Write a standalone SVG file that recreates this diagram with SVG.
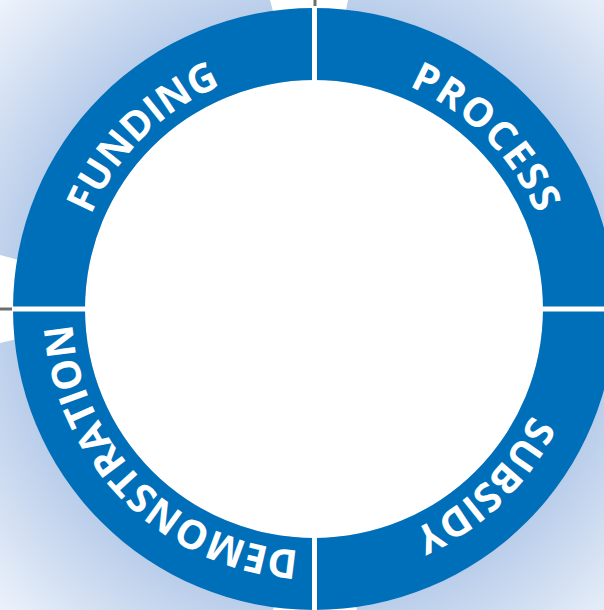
<svg xmlns="http://www.w3.org/2000/svg" width="604" height="610" viewBox="0 0 604 610">
<defs>
<radialGradient id="bg" gradientUnits="userSpaceOnUse" cx="314" cy="309" r="440">
<stop offset="0.68" stop-color="#b9cdea"/>
<stop offset="1" stop-color="#eef3fb"/>
</radialGradient>
<path id="circ" d="M314,67 A242,242 0 0 1 314,551 A242,242 0 0 1 314,67"/>
<style>
.seg{fill:#006fba}
.lbl{fill:#ffffff;font-family:"Open Sans","Liberation Sans",sans-serif;font-weight:700;font-size:40px}
.sep{stroke:#ffffff;stroke-width:5}
.tick{stroke:#6e6e6e;stroke-width:3}
</style>
</defs>
<rect x="0" y="0" width="604" height="610" fill="url(#bg)"/>
<g id="gaps" fill="#ffffff">
<polygon points="270,0 348,0 342,30 278,30"/>
<polygon points="0,255 0,343 30,336 30,263"/>
<polygon points="273,610 357,610 351,585 279,585"/>
</g>
<circle cx="314" cy="309" r="229" fill="#ffffff"/>
<g id="funding">
<path class="seg" d="M13,309 A301,301 0 0 1 314,8 L314,80 A229,229 0 0 0 85,309 Z"/>
<text class="lbl"><textPath href="#circ" startOffset="1330.4" text-anchor="middle" textLength="188" lengthAdjust="spacing">FUNDING</textPath></text>
</g>
<g id="process">
<path class="seg" d="M314,8 A301,301 0 0 1 615,309 L543,309 A229,229 0 0 0 314,80 Z"/>
<text class="lbl"><textPath href="#circ" startOffset="190" text-anchor="middle" textLength="185" lengthAdjust="spacing">PROCESS</textPath></text>
</g>
<g id="subsidy">
<path class="seg" d="M615,309 A301,301 0 0 1 314,610 L314,538 A229,229 0 0 0 543,309 Z"/>
<text class="lbl"><textPath href="#circ" startOffset="574" text-anchor="middle" textLength="169" lengthAdjust="spacing">SUBSIDY</textPath></text>
</g>
<g id="demonstration">
<path class="seg" d="M314,610 A301,301 0 0 1 13,309 L85,309 A229,229 0 0 0 314,538 Z"/>
<text class="lbl"><textPath href="#circ" startOffset="950.3" text-anchor="middle" textLength="350" lengthAdjust="spacing">DEMONSTRATION</textPath></text>
</g>
<g id="connectors">
<line class="sep" x1="314.5" y1="6" x2="314.5" y2="610"/>
<line class="sep" x1="12" y1="309" x2="604" y2="309"/>
<line class="tick" x1="315" y1="0" x2="315" y2="6"/>
<line class="tick" x1="0" y1="309" x2="12" y2="309"/>
</g>
</svg>
